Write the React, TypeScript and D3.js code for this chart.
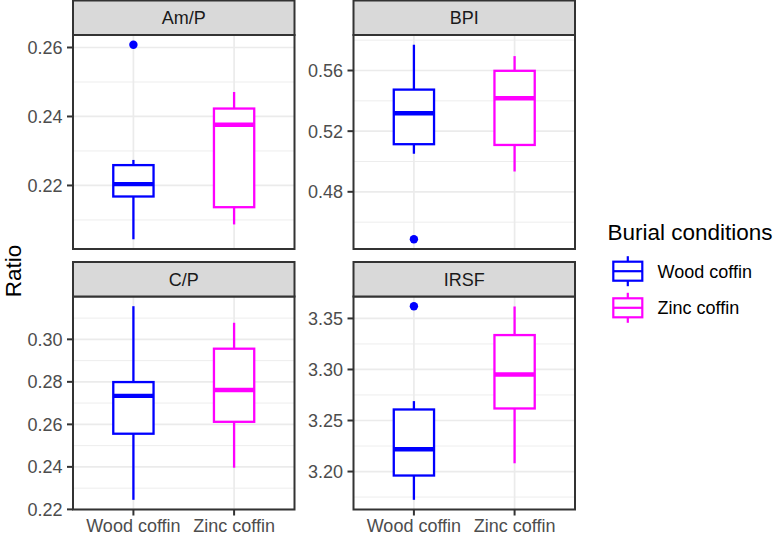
import React from "react";
import * as d3 from "d3";

// ---- data ----
const categories = ["Wood coffin", "Zinc coffin"];
const colors = ["#0000FF", "#FF00FF"];
const facets = ["Am/P", "BPI", "C/P", "IRSF"];

// box stats: [lower whisker, Q1, median, Q3, upper whisker] per category
const ampStats = [
  [0.2044, 0.2168, 0.2204, 0.2259, 0.2274],
  [0.2087, 0.2137, 0.2376, 0.2423, 0.2471],
];
const ampOutliers = [[0.2608], []];
const ampTicks = [0.22, 0.24, 0.26];

const bpiStats = [
  [0.5051, 0.5114, 0.5318, 0.5474, 0.577],
  [0.4934, 0.5109, 0.5417, 0.5598, 0.5695],
];
const bpiOutliers = [[0.4487], []];
const bpiTicks = [0.48, 0.52, 0.56];

const cpStats = [
  [0.2245, 0.2556, 0.2734, 0.2799, 0.3156],
  [0.2396, 0.2612, 0.2762, 0.2956, 0.3078],
];
const cpOutliers = [[], []];
const cpTicks = [0.22, 0.24, 0.26, 0.28, 0.3];

const irsfStats = [
  [3.1723, 3.1961, 3.2218, 3.2608, 3.269],
  [3.2081, 3.2618, 3.2951, 3.3337, 3.3617],
];
const irsfOutliers = [[3.362], []];
const irsfTicks = [3.2, 3.25, 3.3, 3.35];

const facetStats = [ampStats, bpiStats, cpStats, irsfStats];
const facetOutliers = [ampOutliers, bpiOutliers, cpOutliers, irsfOutliers];
const facetTicks = [ampTicks, bpiTicks, cpTicks, irsfTicks];

// ---- layout ----
const W = 776;
const H = 535;
const colX = [73, 353.5];
const panelW = 221.5;
const stripTop = [0.5, 262];
const stripH = 34.5;
const panelH = [214, 213];
const FONT = "Liberation Sans, Arial, Helvetica, sans-serif";
const GRID = "#EBEBEB";
const DARK = "#333333";

function Panel({ idx }: { idx: number }) {
  const col = idx % 2;
  const row = Math.floor(idx / 2);
  const x0 = colX[col];
  const x1 = x0 + panelW;
  const sTop = stripTop[row];
  const pTop = sTop + stripH;
  const pBot = pTop + panelH[row];
  const stats = facetStats[idx];
  const outs = facetOutliers[idx];
  const ticks = facetTicks[idx];

  const all = [...stats.flat(), ...outs.flat()];
  const [mn, mx] = d3.extent(all) as [number, number];
  const pad = (mx - mn) * 0.05;
  const y = d3.scaleLinear().domain([mn - pad, mx + pad]).range([pBot, pTop]);
  const x = d3.scaleLinear().domain([0.4, 2.6]).range([x0, x1]);
  const step = ticks[1] - ticks[0];
  const minor: number[] = [];
  for (let i = -1; i < ticks.length; i++) {
    const v = ticks[0] + step * (i + 0.5);
    if (v >= y.domain()[0] && v <= y.domain()[1]) minor.push(v);
  }
  const fmt = d3.format(".2f");
  const showX = row === 1;
  const bw = 0.4;

  return (
    <g>
      {/* grid */}
      {minor.map((v, i) => (
        <line key={"mi" + i} x1={x0} x2={x1} y1={y(v)} y2={y(v)} stroke={GRID} strokeWidth={0.9} />
      ))}
      {ticks.map((v, i) => (
        <line key={"ma" + i} x1={x0} x2={x1} y1={y(v)} y2={y(v)} stroke={GRID} strokeWidth={1.7} />
      ))}
      {categories.map((c, i) => (
        <line key={"vx" + i} x1={x(i + 1)} x2={x(i + 1)} y1={pTop} y2={pBot} stroke={GRID} strokeWidth={1.7} />
      ))}
      {/* boxes */}
      {stats.map((s, i) => {
        const cx = x(i + 1);
        const bl = x(i + 1 - bw / 2);
        const br = x(i + 1 + bw / 2);
        const col = colors[i];
        return (
          <g key={"b" + i}>
            <line x1={cx} x2={cx} y1={y(s[0])} y2={y(s[1])} stroke={col} strokeWidth={2.3} />
            <line x1={cx} x2={cx} y1={y(s[3])} y2={y(s[4])} stroke={col} strokeWidth={2.3} />
            <rect x={bl} y={y(s[3])} width={br - bl} height={y(s[1]) - y(s[3])} fill="white" stroke={col} strokeWidth={2.3} />
            <line x1={bl} x2={br} y1={y(s[2])} y2={y(s[2])} stroke={col} strokeWidth={4.4} />
            {outs[i].map((o, j) => (
              <circle key={j} cx={cx} cy={y(o)} r={4.2} fill={col} />
            ))}
          </g>
        );
      })}
      {/* panel border */}
      <rect x={x0} y={pTop} width={panelW} height={pBot - pTop} fill="none" stroke={DARK} strokeWidth={2} />
      {/* strip */}
      <rect x={x0} y={sTop} width={panelW} height={stripH} fill="#D9D9D9" stroke={DARK} strokeWidth={2} />
      <text x={(x0 + x1) / 2} y={sTop + stripH / 2} dy="0.36em" textAnchor="middle" fontSize={18} fill="#1A1A1A" fontFamily={FONT}>
        {facets[idx]}
      </text>
      {/* y axis */}
      {ticks.map((v, i) => (
        <g key={"yt" + i}>
          <line x1={x0 - 6} x2={x0} y1={y(v)} y2={y(v)} stroke={DARK} strokeWidth={2} />
          <text x={x0 - 10.5} y={y(v)} dy="0.36em" textAnchor="end" fontSize={18} fill="#4D4D4D" fontFamily={FONT}>
            {fmt(v)}
          </text>
        </g>
      ))}
      {/* x axis */}
      {showX &&
        categories.map((c, i) => (
          <g key={"xt" + i}>
            <line x1={x(i + 1)} x2={x(i + 1)} y1={pBot} y2={pBot + 6} stroke={DARK} strokeWidth={2} />
            <text x={x(i + 1)} y={pBot + 22.5} textAnchor="middle" fontSize={18} fill="#4D4D4D" fontFamily={FONT}>
              {c}
            </text>
          </g>
        ))}
    </g>
  );
}

function Legend() {
  const kx = 627.8;
  const centers = [271.2, 307.8];
  return (
    <g fontFamily={FONT}>
      <text x={607.5} y={239.5} fontSize={22.5} fill="#000">
        Burial conditions
      </text>
      {categories.map((c, i) => {
        const cy = centers[i];
        return (
          <g key={c}>
            <line x1={kx} x2={kx} y1={cy - 15} y2={cy + 15} stroke={colors[i]} strokeWidth={2.2} />
            <rect x={kx - 14.5} y={cy - 9.5} width={29} height={19} fill="white" stroke={colors[i]} strokeWidth={2.2} />
            <line x1={kx - 14.5} x2={kx + 14.5} y1={cy} y2={cy} stroke={colors[i]} strokeWidth={2.2} />
            <text x={657.5} y={cy} dy="0.36em" fontSize={18} fill="#000">
              {c}
            </text>
          </g>
        );
      })}
    </g>
  );
}

export default function App() {
  return (
    <svg width={W} height={H} style={{ position: "absolute", left: 0, top: 0, background: "white" }}>
      <rect width={W} height={H} fill="white" />
      {facets.map((f, i) => (
        <Panel key={f} idx={i} />
      ))}
      <text transform="translate(21,271) rotate(-90)" textAnchor="middle" fontSize={22.5} fill="#000" fontFamily={FONT}>
        Ratio
      </text>
      <Legend />
    </svg>
  );
}
